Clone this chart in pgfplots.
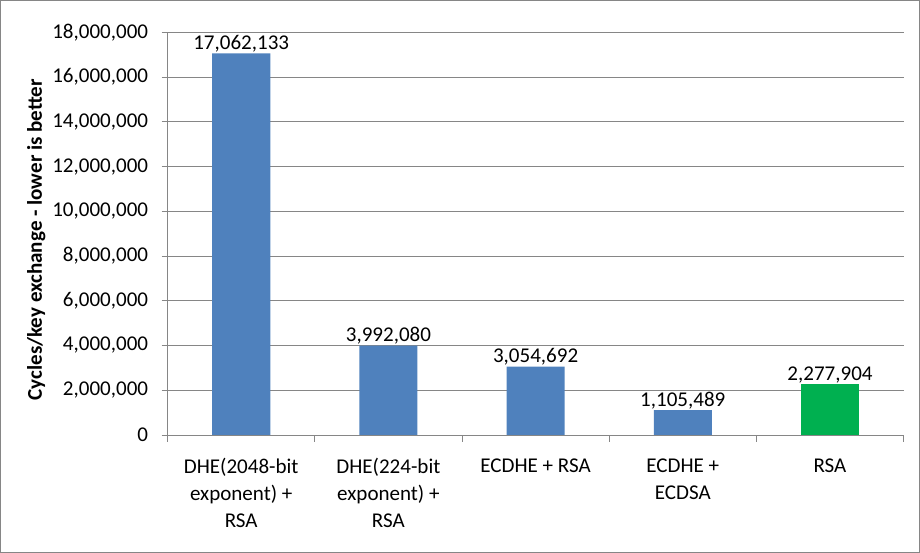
\documentclass[border=0pt]{standalone}
\usepackage{fontspec}
\setmainfont{Carlito}
\usepackage{pgfplots}
\pgfplotsset{compat=1.18}
\definecolor{barblue}{HTML}{4F81BD}
\definecolor{bargreen}{HTML}{00B050}
\definecolor{gridgray}{HTML}{868686}
\begin{document}
\begin{tikzpicture}[x=1pt,y=1pt]
\begin{axis}[
  at={(0,0)}, anchor=south west,
  scale only axis,
  width=735pt, height=402pt,
  xmin=0.5, xmax=5.5,
  ymin=0, ymax=18000000,
  axis lines*=left,
  axis line style={gridgray, line width=0.8pt},
  ymajorgrids,
  grid style={gridgray, line width=0.8pt},
  ytick={0,2000000,...,18000000},
  scaled y ticks=false,
  yticklabel style={font=\fontsize{21}{25}\selectfont, xshift=-10pt, /pgf/number format/.cd, fixed, 1000 sep={,}, assume math mode=true},
  tick align=outside,
  major tick length=6pt,
  tick style={gridgray, line width=0.8pt},
  xtick={1,2,3,4,5},
  xtick style={draw=none},
  xticklabels={{DHE(2048-bit\\exponent) +\\RSA},{DHE(224-bit\\exponent) +\\RSA},{ECDHE + RSA},{ECDHE +\\ECDSA},{RSA}},
  xticklabel style={font=\fontsize{21}{27}\selectfont, align=center, yshift=-14pt, anchor=north},
  extra x ticks={0.5,1.5,2.5,3.5,4.5,5.5},
  extra x tick labels={},
  extra x tick style={grid=none, xtick style={draw=gridgray, line width=0.8pt}, major tick length=7pt},
  ylabel={\bfseries Cycles/key exchange - lower is better},
  ylabel style={font=\fontsize{21}{25}\selectfont},
  every axis y label/.append style={at={(ticklabel cs:0.5)}, xshift=-6pt},
  ybar, bar width=58pt, bar shift=0pt,
  nodes near coords,
  nodes near coords style={font=\fontsize{21}{25}\selectfont, inner sep=1pt, /pgf/number format/.cd, fixed, 1000 sep={,}, assume math mode=true},
  clip=false,
]
\addplot[fill=barblue, draw=none] coordinates {(1,17062133) (2,3992080) (3,3054692) (4,1105489)};
\addplot[fill=bargreen, draw=none] coordinates {(5,2277904)};
\end{axis}
\draw[gridgray, line width=0.8pt] (-167,-117) rectangle (751,434);
\end{tikzpicture}
\end{document}
